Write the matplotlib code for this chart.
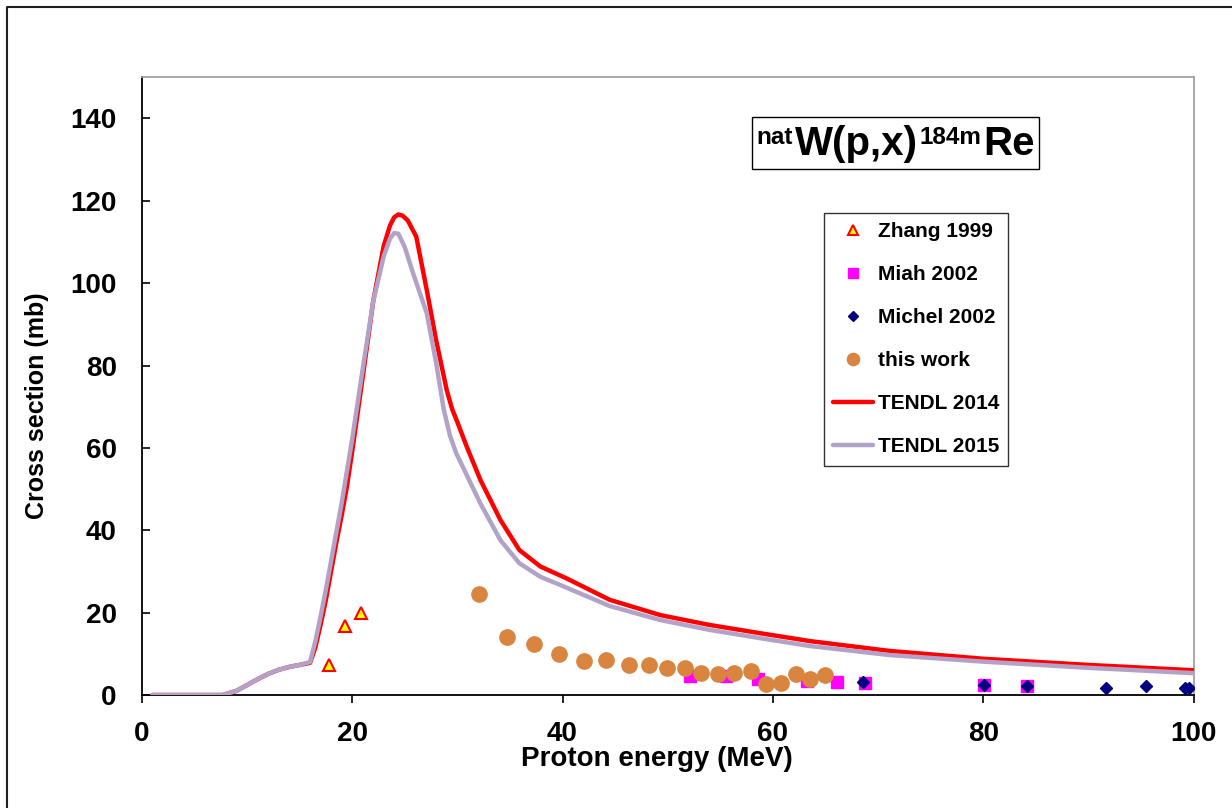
import matplotlib
matplotlib.use("Agg")
import matplotlib.pyplot as plt
from matplotlib.lines import Line2D
from matplotlib.patches import Rectangle

plt.rcParams['font.family'] = ['Liberation Sans', 'DejaVu Sans']
plt.rcParams['font.weight'] = 'bold'

# ---------------- data ----------------
zhang_E = [17.8, 19.35, 20.85]
zhang_xs = [7.3, 16.8, 20.0]

miah_E = [52.1, 55.5, 58.6, 63.2, 66.1, 68.8, 80.1, 84.2]
miah_xs = [4.6, 4.6, 3.8, 3.4, 3.2, 3.0, 2.4, 2.3]

michel_E = [68.6, 80.1, 84.2, 91.7, 95.5, 99.2, 99.6]
michel_xs = [3.1, 2.4, 2.3, 1.8, 2.2, 1.8, 1.8]

work_E = [32.1, 34.75, 37.3, 39.7, 42.0, 44.1, 46.3, 48.25, 49.95, 51.65,
          53.2, 54.8, 56.3, 57.9, 59.3, 60.8, 62.2, 63.5, 64.95]
work_xs = [24.45, 14.0, 12.4, 9.9, 8.2, 8.5, 7.3, 7.2, 6.5, 6.5,
           5.4, 5.0, 5.4, 5.9, 2.6, 2.8, 5.1, 4.0, 4.8]

tendl14_E = [1, 7.7, 9, 10, 11, 12, 13, 14, 15, 16, 16.5, 17, 17.5, 18, 18.5,
             19, 19.5, 20, 21, 22, 23, 23.6, 24.0, 24.4, 24.8, 25.3, 26.1, 27.1,
             28, 29, 29.5, 30, 30.9, 32.2, 34.1, 35.9, 37.9, 40.4, 44.5, 49.3,
             54.0, 58.8, 63.5, 71.1, 80, 90, 100]
tendl14_xs = [0, 0, 1.0, 2.4, 3.8, 5.1, 6.1, 6.8, 7.3, 7.8, 11.5, 17, 23, 30, 37,
              43.5, 50.5, 59, 77, 95.5, 109, 114.0, 116.0, 116.7, 116.4, 115.2,
              111.3, 98.3, 86, 74.0, 69.5, 66.3, 60.3, 52.2, 42.5, 35.2, 31.2,
              28.3, 23.1, 19.4, 17.0, 15.0, 13.1, 10.7, 8.8, 7.3, 6.0]

tendl15_E = [1, 7.7, 9, 10, 11, 12, 13, 14, 15, 16, 16.5, 17, 17.5, 18, 18.5,
             19, 20, 21, 22, 23, 23.6, 24.0, 24.4, 25.0, 25.8, 27.1, 28, 28.7,
             29.3, 29.9, 32.2, 34.1, 35.9, 37.9, 39.8, 44.5, 49.3, 54.0, 58.8,
             63.5, 71.1, 80, 90, 100]
tendl15_xs = [0, 0, 1.0, 2.4, 3.8, 5.1, 6.1, 6.8, 7.3, 8.0, 13, 19, 25.5, 32.5,
              39.5, 46.5, 62, 79, 95.5, 106.5, 110.8, 112.2, 112.0, 108.8, 102.4,
              92.7, 80.5, 69.5, 63.0, 58.7, 46.5, 37.6, 32.0, 28.7, 26.7, 21.6,
              18.2, 15.8, 13.8, 11.9, 9.7, 8.1, 6.6, 5.3]

x_ticks = [0, 20, 40, 60, 80, 100]
y_ticks = [0, 20, 40, 60, 80, 100, 120, 140]

# ---------------- figure ----------------
W, H = 1232, 808
fig = plt.figure(figsize=(W / 100, H / 100), dpi=100)
ax = fig.add_axes([141.7 / W, 1 - 695 / H, (1193.7 - 141.7) / W, (695 - 77.3) / H])

ax.plot(zhang_E, zhang_xs, linestyle='none', marker='^', markersize=8.5,
        markerfacecolor='#FFFF00', markeredgecolor='#FF0000', markeredgewidth=1.5,
        label='Zhang 1999', zorder=3)
ax.plot(miah_E, miah_xs, linestyle='none', marker='s', markersize=8.5,
        markerfacecolor='#FF00FF', markeredgecolor='#FF00FF', label='Miah 2002', zorder=3)
ax.plot(michel_E, michel_xs, linestyle='none', marker='D', markersize=6.5,
        markerfacecolor='#000080', markeredgecolor='#000080', label='Michel 2002', zorder=4)
ax.plot(work_E, work_xs, linestyle='none', marker='o', markersize=11,
        markerfacecolor='#D9843F', markeredgecolor='#D9843F', label='this work', zorder=5)
ax.plot(tendl14_E, tendl14_xs, color='#FF0000', lw=3.2, label='TENDL 2014',
        zorder=6, solid_joinstyle='round', solid_capstyle='round')
ax.plot(tendl15_E, tendl15_xs, color='#B3A2C7', lw=3.2, label='TENDL 2015',
        zorder=7, solid_joinstyle='round', solid_capstyle='round')

ax.set_xlim(0, 100)
ax.set_ylim(0, 150)
ax.set_xticks(x_ticks)
ax.set_yticks(y_ticks)
ax.tick_params(axis='x', direction='out', length=6, width=1.2, pad=13, labelsize=20)
ax.tick_params(axis='y', direction='in', length=6, width=1.2, pad=18, labelsize=20)
for lab in ax.get_xticklabels() + ax.get_yticklabels():
    lab.set_fontweight('bold')

for s in ['left', 'bottom']:
    ax.spines[s].set_color('black')
    ax.spines[s].set_linewidth(1.3)
for s in ['top', 'right']:
    ax.spines[s].set_color('#A0A0A0')
    ax.spines[s].set_linewidth(1.3)

ax.set_xlabel('Proton energy (MeV)', fontsize=20, fontweight='bold')
ax.set_ylabel('Cross section (mb)', fontsize=18, fontweight='bold')
ax.xaxis.set_label_coords((657 - 141.7) / 1052, (695 - 746) / 617.7)
ax.yaxis.set_label_coords((49 - 141.7) / 1052, (695 - 406) / 617.7)

leg = ax.legend(loc='upper left', bbox_to_anchor=(824 / W, 1 - 213 / H),
                bbox_transform=fig.transFigure, borderaxespad=0,
                fontsize=15, frameon=True, fancybox=False, edgecolor='black',
                handlelength=1.92, handletextpad=0.2, labelspacing=1.15,
                borderpad=0.45, markerscale=0.8)
leg.get_frame().set_linewidth(1.0)
for t in leg.get_texts():
    t.set_fontweight('bold')

# ---- title box: natW(p,x)184mRe built from pieces ----
renderer = fig.canvas.get_renderer()
pieces = [('nat', 17.5, 11), ('W(p,x)', 29, 0), ('184m', 17.5, 11), ('Re', 29, 0)]
gap = 2.0
base_y = 155  # pixel baseline (from top)
texts = []
widths = []
for s, fs, rise in pieces:
    t = fig.text(0, 0, s, fontsize=fs, fontweight='bold', ha='left', va='baseline')
    w = t.get_window_extent(renderer).width
    texts.append((t, rise))
    widths.append(w)
total = sum(widths) + gap * (len(pieces) - 1)
cx = 895.5
x = cx - total / 2
for (t, rise), w in zip(texts, widths):
    t.set_position((x / W, 1 - (base_y - rise) / H))
    x += w + gap
fig.add_artist(Rectangle(((cx - total / 2 - 4) / W, 1 - 169 / H), (total + 8) / W, 52 / H,
                         transform=fig.transFigure, facecolor='white', edgecolor='black',
                         linewidth=1.0, zorder=0.5))

# outer chart border (left and top visible)
fig.add_artist(Line2D([7.3 / W, 7.3 / W, 1.0], [0.0, 1 - 7 / H, 1 - 7 / H],
                      transform=fig.transFigure, color='#202020', lw=1.5))

fig.savefig('out.png', dpi=100)
